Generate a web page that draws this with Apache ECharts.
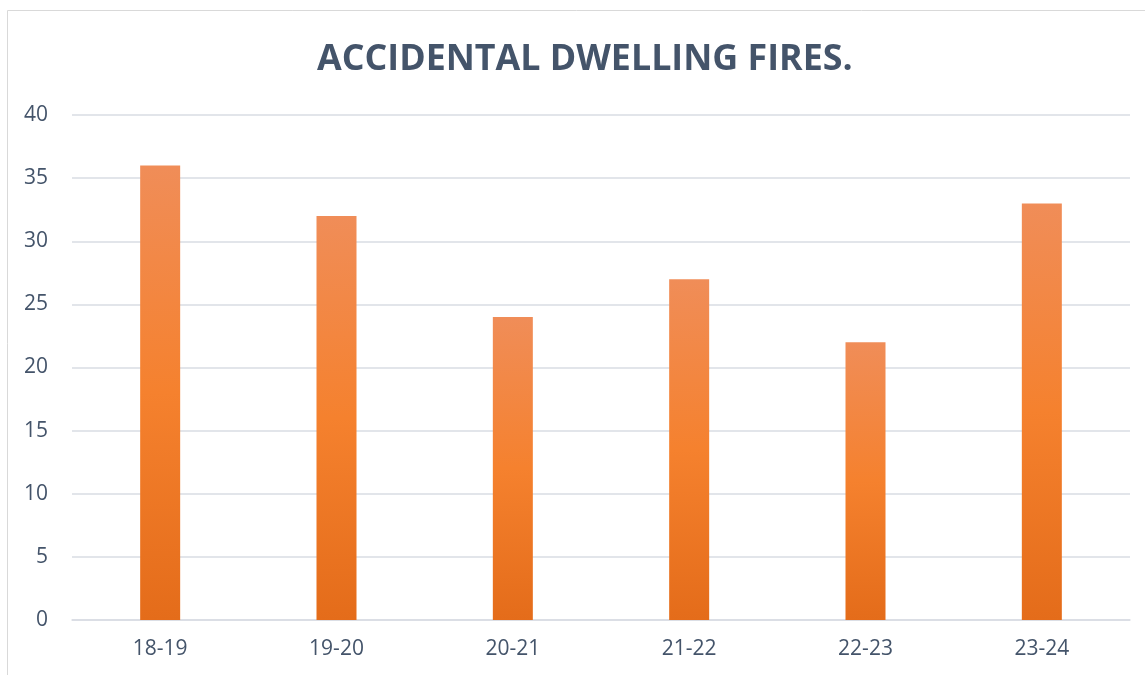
<!DOCTYPE html>
<html><head><meta charset="utf-8">
<script src="https://cdn.jsdelivr.net/npm/echarts@6/dist/echarts.min.js"></script>
<style>html,body{margin:0;padding:0;background:#fff}#c{width:1145px;height:675px}</style>
</head><body><div id="c"></div>
<script>
const categories = ['18-19','19-20','20-21','21-22','22-23','23-24'];
const fires = [36, 32, 24, 27, 22, 33];
const yTicks = [0, 5, 10, 15, 20, 25, 30, 35, 40];
const chart = echarts.init(document.getElementById('c'));
chart.setOption({
  animation: false,
  graphic: [{type:'rect', shape:{x:7.5,y:10.5,width:1200,height:700}, style:{fill:'none',stroke:'#d9d9d9',lineWidth:1}}],
  title: {text:'ACCIDENTAL DWELLING FIRES.', left:312, top:37,
    textStyle:{fontFamily:'Open Sans', fontWeight:'bold', fontSize:35.8, color:'#44546a'}},
  grid: {left:72, right:15, top:115, bottom:55},
  xAxis: {type:'category', data:categories,
    axisLine:{lineStyle:{color:'#d9dce3', width:1.5}}, axisTick:{show:false},
    axisLabel:{color:'#44546a', fontSize:21, fontFamily:'Open Sans', margin:19}},
  yAxis: {type:'value', min:0, max:yTicks[yTicks.length-1], interval:5,
    axisLine:{show:false}, axisTick:{show:false},
    splitLine:{lineStyle:{color:'#d9dce3', width:1.5}},
    axisLabel:{color:'#44546a', fontSize:21, fontFamily:'Open Sans', margin:24}},
  series: [{type:'bar', data:fires, barWidth:40,
    itemStyle:{color:new echarts.graphic.LinearGradient(0,0,0,1,[
      {offset:0,color:'#f08d58'},{offset:0.5,color:'#f5812e'},{offset:1,color:'#e46c1a'}])}}]
});
</script></body></html>
